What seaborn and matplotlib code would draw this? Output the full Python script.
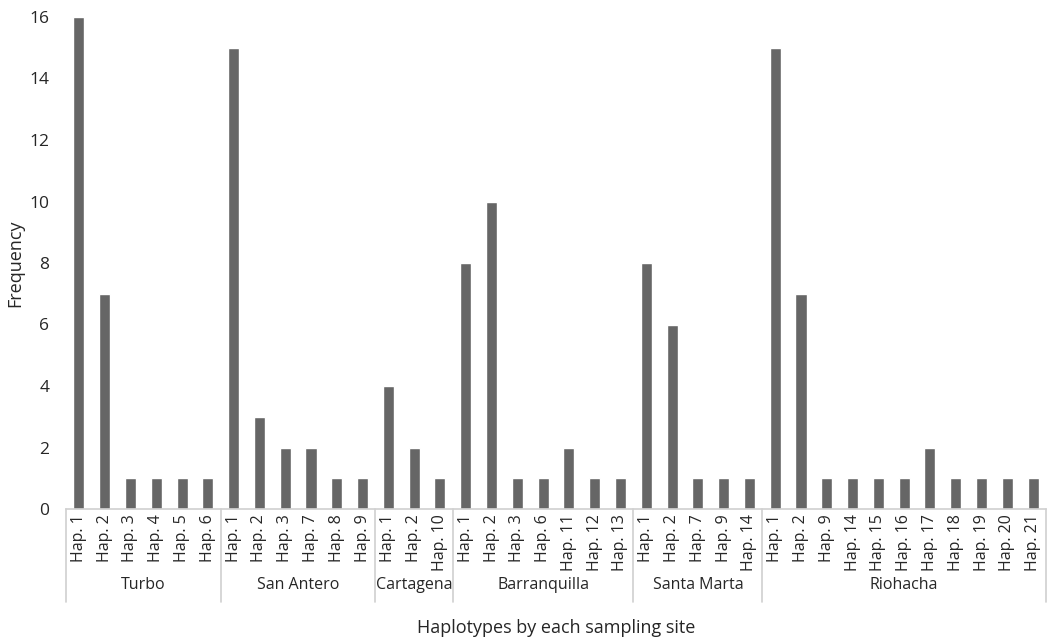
import pandas as pd
import numpy as np
import matplotlib
matplotlib.use("Agg")
import matplotlib.pyplot as plt
import seaborn as sns

# haplotype frequencies per sampling site
sites = ["Turbo", "San Antero", "Cartagena", "Barranquilla", "Santa Marta", "Riohacha"]
turbo_haps = ["Hap. 1", "Hap. 2", "Hap. 3", "Hap. 4", "Hap. 5", "Hap. 6"]
turbo_freq = [16, 7, 1, 1, 1, 1]
san_antero_haps = ["Hap. 1", "Hap. 2", "Hap. 3", "Hap. 7", "Hap. 8", "Hap. 9"]
san_antero_freq = [15, 3, 2, 2, 1, 1]
cartagena_haps = ["Hap. 1", "Hap. 2", "Hap. 10"]
cartagena_freq = [4, 2, 1]
barranquilla_haps = ["Hap. 1", "Hap. 2", "Hap. 3", "Hap. 6", "Hap. 11", "Hap. 12", "Hap. 13"]
barranquilla_freq = [8, 10, 1, 1, 2, 1, 1]
santa_marta_haps = ["Hap. 1", "Hap. 2", "Hap. 7", "Hap. 9", "Hap. 14"]
santa_marta_freq = [8, 6, 1, 1, 1]
riohacha_haps = ["Hap. 1", "Hap. 2", "Hap. 9", "Hap. 14", "Hap. 15", "Hap. 16",
                 "Hap. 17", "Hap. 18", "Hap. 19", "Hap. 20", "Hap. 21"]
riohacha_freq = [15, 7, 1, 1, 1, 1, 2, 1, 1, 1, 1]

hap_lists = [turbo_haps, san_antero_haps, cartagena_haps,
             barranquilla_haps, santa_marta_haps, riohacha_haps]
freq_lists = [turbo_freq, san_antero_freq, cartagena_freq,
              barranquilla_freq, santa_marta_freq, riohacha_freq]

rows = []
for site, haps, freqs in zip(sites, hap_lists, freq_lists):
    for h, f in zip(haps, freqs):
        rows.append({"site": site, "hap": h, "key": site + "|" + h, "freq": f})
df = pd.DataFrame(rows)

sns.set_style("white")
plt.rcParams['font.family'] = ['Open Sans', 'DejaVu Sans']

fig = plt.figure(figsize=(10.47, 6.44), dpi=100)
ax = fig.add_axes([66 / 1047, 1 - 509 / 644, 980 / 1047, (509 - 17) / 644])

sns.barplot(data=df, x="key", y="freq", order=list(df["key"]),
            color="#666666", saturation=1, width=0.43, ax=ax)

ax.set_ylim(0, 16)
ax.set_yticks(range(0, 17, 2))
ax.set_xlim(-0.5, len(df) - 0.5)
ax.set_xticks(range(len(df)))
ax.set_xticklabels(df["hap"], rotation=90, fontsize=11.5)
ax.tick_params(axis="y", labelsize=12.5, length=0, pad=12)
ax.tick_params(axis="x", length=0, pad=4)

for s in ["top", "right", "left"]:
    ax.spines[s].set_visible(False)
ax.spines["bottom"].set_color("#d0d0d0")
ax.spines["bottom"].set_linewidth(1.2)

ax.set_ylabel("Frequency", fontsize=13, labelpad=4)
ax.set_xlabel("")
fig.text(556 / 1047, 1 - 628 / 644, "Haplotypes by each sampling site",
         ha="center", va="center", fontsize=13)

# group separators and site labels below tick labels
sep_bottom = -(602 - 509) / (509 - 17)
label_y = -(585 - 509) / (509 - 17)
trans = ax.get_xaxis_transform()
start = 0
bounds = [-0.5]
for site, haps in zip(sites, hap_lists):
    end = start + len(haps)
    bounds.append(end - 0.5)
    ax.text((start + end - 1) / 2, label_y, site, transform=trans,
            ha="center", va="center", fontsize=11.5)
    start = end
for b in bounds:
    ax.plot([b, b], [0, sep_bottom], transform=trans, color="#d0d0d0",
            lw=1.2, clip_on=False)

fig.savefig("out.png", dpi=100)
